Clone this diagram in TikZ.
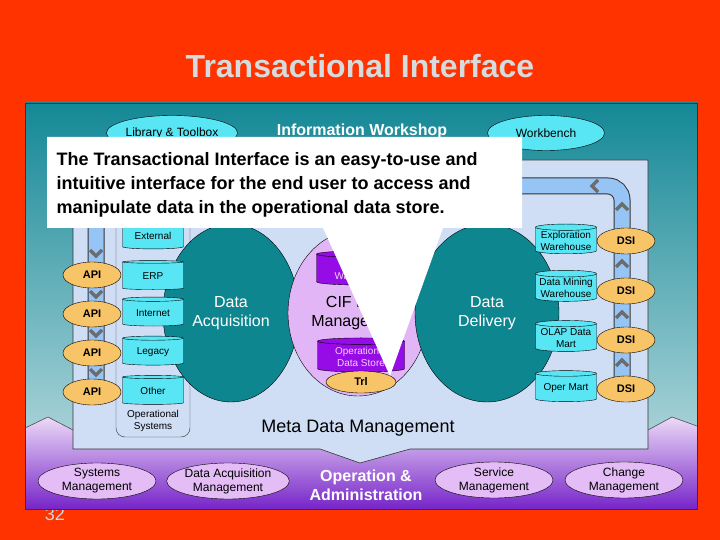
\documentclass[tikz,border=0pt]{standalone}
\usepackage{fontspec}
\setmainfont{Liberation Sans}
\usepackage{tikz}
\usetikzlibrary{shapes.geometric}

\definecolor{slidered}{RGB}{255,51,0}
\definecolor{titlegray}{RGB}{214,220,222}
\definecolor{panteal}{RGB}{20,136,150}
\definecolor{panlight}{RGB}{200,226,230}
\definecolor{innerblue}{RGB}{208,222,245}
\definecolor{pipeblue}{RGB}{150,196,245}
\definecolor{dbcyan}{RGB}{88,230,245}
\definecolor{apiorange}{RGB}{248,196,104}
\definecolor{bigteal}{RGB}{14,134,144}
\definecolor{cifpink}{RGB}{226,182,246}
\definecolor{odspurple}{RGB}{150,12,230}
\definecolor{odstext}{RGB}{244,206,252}
\definecolor{mgmtpink}{RGB}{228,188,246}
\definecolor{purpletop}{RGB}{236,218,246}
\definecolor{purplebot}{RGB}{118,36,200}

\begin{document}
\begin{tikzpicture}[x=1pt, y=-1pt,
    topoval/.style={ellipse, draw, fill=dbcyan, minimum width=117pt, minimum height=35pt, inner sep=0pt, font=\fontsize{12}{13}\selectfont},
    bigoval/.style={ellipse, draw, fill=bigteal, text=white, align=center, inner sep=0pt, font=\fontsize{16}{19}\selectfont},
    db/.style={cylinder, shape border rotate=90, aspect=0.12, draw, fill=dbcyan, minimum width=61pt, minimum height=29pt, inner sep=1pt, align=center, font=\fontsize{10}{11.5}\selectfont},
    ods/.style={db, fill=odspurple, text=odstext, minimum width=87pt, minimum height=34pt},
    tag/.style={ellipse, draw, fill=apiorange, minimum width=58pt, minimum height=26pt, inner sep=0pt, font=\bfseries\fontsize{11}{12}\selectfont},
    mgmt/.style={ellipse, draw, fill=mgmtpink, minimum width=118pt, minimum height=36pt, inner sep=0pt, align=center, font=\fontsize{12}{14}\selectfont},
    chev/.style={draw=gray!85!black, line width=3.2pt}
  ]

% slide
\fill[slidered] (0,0) rectangle (720,540);
\node[text=titlegray, font=\fontsize{18}{20}\selectfont] (pagenum) at (55,514) {32};
\shade[top color=panteal, bottom color=panlight] (25,103) rectangle (697,509);
\shade[top color=purpletop, bottom color=purplebot] (25,428) -- (48,417) -- (73,430) -- (648,430) -- (672,417) -- (697,426) -- (697,509) -- (25,509) -- cycle;
\draw[black!70, line width=0.6pt] (25,428) -- (48,417) -- (73,430);
\draw[black!70, line width=0.6pt] (648,430) -- (672,417) -- (697,426);
\draw[black!80, line width=0.8pt] (25,103) rectangle (697,509);

% information workshop
\node[topoval] (library) at (172,133) {Library \& Toolbox};
\node[topoval] (workbench) at (546,133) {Workbench};
\node[text=white, font=\bfseries\fontsize{16}{18}\selectfont] (workshop) at (362,131) {Information Workshop};

% meta data area
\filldraw[fill=innerblue, draw=black!80, line width=0.6pt] (73,160) -- (648,160) -- (648,449) -- (410,449) -- (360,463) -- (320,449) -- (73,449) -- cycle;

% pipe
\draw[black!80, line width=17pt, rounded corners=14pt] (96,392) -- (96,186) -- (622,186) -- (622,390);
\draw[pipeblue, line width=15pt, rounded corners=14pt] (96,392) -- (96,186) -- (622,186) -- (622,390);
\foreach \y in {253,294,333,372}
  \draw[chev] (90,\y-3) -- (96,\y+3) -- (102,\y-3);
\foreach \y in {207,264,315,363}
  \draw[chev] (616,\y+3) -- (622,\y-3) -- (628,\y+3);
\draw[chev] (598,180) -- (592,186) -- (598,192);

% operational systems
\draw[black!80, rounded corners=9pt] (116,168) rectangle (190,437);
\node[align=center, font=\fontsize{10}{12}\selectfont] (opsys) at (153,421) {Operational\\Systems};

% data acquisition, cif, data delivery
\node[bigoval, minimum width=136pt, minimum height=178pt] (acq) at (231,313) {Data\\Acquisition};
\node[bigoval, fill=cifpink, minimum width=140pt, minimum height=166pt, text=black] (cif) at (358,313) {CIF Data\\Management};
\node[bigoval, minimum width=144pt, minimum height=178pt] (delivery) at (487,313) {Data\\Delivery};

% sources
\node[db] (external) at (153,236) {External};
\node[db] (erp) at (153,276) {ERP};
\node[db] (internet) at (153,313) {Internet};
\node[db] (legacy) at (153,352) {Legacy};
\node[db] (other) at (153,391) {Other};
\node[tag] (api1) at (92,275) {API};
\node[tag] (api2) at (92,314) {API};
\node[tag] (api3) at (92,353) {API};
\node[tag] (api4) at (92,392) {API};

% cif stores
\node[ods] (warehouse) at (360,270) {Data\\Warehouse};
\node[ods] (odstore) at (361,357) {Operational\\Data Store};
\node[tag, minimum width=70pt, minimum height=22pt] (trl) at (361,382) {Trl};

% targets
\node[db] (explore) at (566,241) {Exploration\\Warehouse};
\node[db, minimum height=31pt] (mining) at (566,288) {Data Mining\\Warehouse};
\node[db, minimum height=31pt] (olap) at (566,338) {OLAP Data\\Mart};
\node[db, minimum height=31pt] (opermart) at (566,388) {Oper Mart};
\node[tag] (dsi1) at (626,241) {DSI};
\node[tag] (dsi2) at (626,291) {DSI};
\node[tag] (dsi3) at (626,340) {DSI};
\node[tag] (dsi4) at (626,389) {DSI};

\node[font=\fontsize{18}{20}\selectfont] (meta) at (358,428) {Meta Data Management};

% operation & administration
\node[mgmt] (sysmgmt) at (97,481) {Systems\\Management};
\node[mgmt] (acqmgmt) at (228,481) {Data Acquisition\\Management};
\node[text=white, align=center, font=\bfseries\fontsize{16}{19}\selectfont] (opadmin) at (366,485) {Operation \&\\Administration};
\node[mgmt] (svcmgmt) at (494,480) {Service\\Management};
\node[mgmt] (chgmgmt) at (624,480) {Change\\Management};

% callout
\fill[white] (47,137) -- (522,137) -- (522,228) -- (443,228) -- (390,376) -- (323,228) -- (47,228) -- cycle;
\node[anchor=west, align=left, font=\bfseries\fontsize{18}{24}\selectfont] (note) at (53,185) {The Transactional Interface is an easy-to-use and\\intuitive interface for the end user to access and\\manipulate data in the operational data store.};

\node[text=titlegray, font=\bfseries\fontsize{32}{35}\selectfont] (title) at (360,66) {Transactional Interface};
\end{tikzpicture}
\end{document}
